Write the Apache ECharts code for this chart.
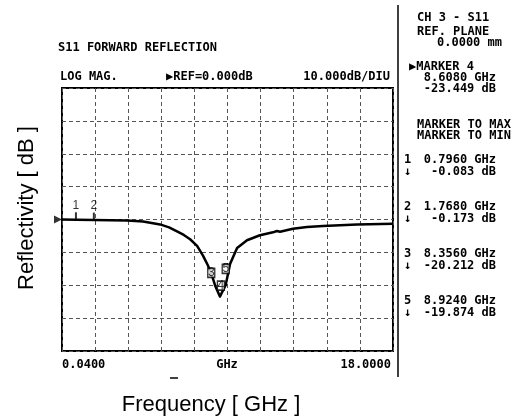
<!DOCTYPE html>
<html>
<head>
<meta charset="utf-8">
<script src="https://cdn.jsdelivr.net/npm/echarts@6/dist/echarts.min.js"></script>
<style>
  html, body { margin: 0; padding: 0; background: #fff; }
  #chart { width: 512px; height: 419px; }
</style>
</head>
<body>
<div id="chart"></div>
<script>
// S11 trace (GHz, dB)
const freqGHz = [0.04, 0.796, 1.768, 2.64, 3.57, 4.44, 5.36, 5.85, 6.28, 6.65, 6.99, 7.37, 7.69, 7.96, 8.23,
  8.356, 8.608, 8.924, 9.16, 9.54, 10.08, 10.78, 11.49, 11.7, 11.87, 12.57, 13.33, 14.2, 16.05, 18.0];
const reflDb = [0.0, -0.083, -0.173, -0.2, -0.3, -0.6, -1.5, -2.4, -3.6, -4.7, -6.0, -8.0, -11.0, -14.0, -18.0,
  -20.212, -23.449, -19.874, -13.5, -8.7, -6.3, -4.8, -3.9, -3.5, -3.7, -2.8, -2.3, -2.0, -1.5, -1.3];

// analyzer markers
const markerNames = ['1', '2', '3', '4', '5'];
const markerFreq = [0.796, 1.768, 8.356, 8.608, 8.924];
const markerDb = [-0.083, -0.173, -20.212, -23.449, -19.874];

const fStart = 0.04, fStop = 18.0;
const dbMin = -40, dbMax = 40, dbPerDiv = 10;

const mono = '"DejaVu Sans Mono", monospace';
const txt = (x, y, text, align) => ({
  type: 'text', x: x, y: y,
  style: { text: text, font: 'bold 12px ' + mono, fill: '#000', textAlign: align || 'left', textVerticalAlign: 'middle' }
});

const chart = echarts.init(document.getElementById('chart'));

const traceData = freqGHz.map((f, i) => [f, reflDb[i]]);
const flagData = [0, 1].map(i => ({ value: [markerFreq[i], markerDb[i]], name: markerNames[i] }));
const boxOffsets = { '3': [-4, -13], '4': [1, -11], '5': [0, -16] };
const boxData = [2, 3, 4].map(i => ({
  value: [markerFreq[i], markerDb[i]], name: markerNames[i],
  symbolOffset: boxOffsets[markerNames[i]]
}));

const readouts = [];
[0, 1, 2, 4].forEach((i, k) => {
  const y = 160 + k * 47;
  readouts.push(txt(404, y, markerNames[i]));
  readouts.push(txt(404, y + 12, '\u2193'));
  readouts.push(txt(496, y, markerFreq[i].toFixed(4) + ' GHz', 'right'));
  readouts.push(txt(496, y + 12, markerDb[i].toFixed(3) + ' dB', 'right'));
});

chart.setOption({
  animation: false,
  backgroundColor: '#fff',
  grid: { left: 62, top: 88, right: 119, bottom: 68, show: true, borderColor: '#000', borderWidth: 2, backgroundColor: 'transparent' },
  xAxis: [
    { type: 'value', min: fStart, max: fStop, show: false },
    { type: 'value', min: 0, max: 10, interval: 1, position: 'bottom',
      axisLine: { show: false }, axisTick: { show: false }, axisLabel: { show: false },
      splitLine: { show: true, lineStyle: { color: '#555', width: 1, type: [4, 3] } } }
  ],
  yAxis: {
    type: 'value', min: dbMin, max: dbMax, interval: dbPerDiv,
    axisLine: { show: false }, axisTick: { show: false }, axisLabel: { show: false },
    splitLine: { show: true, lineStyle: { color: '#555', width: 1, type: [4, 3] } }
  },
  series: [
    {
      type: 'line', xAxisIndex: 0, data: traceData, showSymbol: false, smooth: false,
      lineStyle: { color: '#000', width: 2.5, join: 'round' }, z: 3
    },
    {
      // reference-level pointer at 0 dB on the left edge
      type: 'scatter', xAxisIndex: 0, data: [[fStart, 0]], symbol: 'triangle', symbolRotate: -90,
      symbolSize: [8, 8], symbolOffset: [-4, 0], itemStyle: { color: '#000' }, clip: false, z: 4
    },
    {
      type: 'scatter', xAxisIndex: 0, data: flagData, symbol: 'rect', symbolSize: [2, 7],
      symbolOffset: [0, -4], itemStyle: { color: '#000' }, z: 4,
      label: { show: true, position: 'top', distance: 1, formatter: p => p.name,
        font: 'bold 11px ' + mono, color: '#000' }
    },
    {
      type: 'scatter', xAxisIndex: 0, data: boxData, symbol: 'rect', symbolSize: [7, 9],
      itemStyle: { color: '#fff', borderColor: '#000', borderWidth: 1.5 }, z: 5,
      label: { show: true, position: 'inside', formatter: p => p.name,
        font: 'bold 8px ' + mono, color: '#000' }
    }
  ],
  graphic: [
    { type: 'line', shape: { x1: 398, y1: 5, x2: 398, y2: 377 }, style: { stroke: '#000', lineWidth: 1.5 } },
    txt(58, 48, 'S11 FORWARD REFLECTION'),
    txt(60, 77, 'LOG MAG.'),
    txt(166, 77, '\u25B6REF=0.000dB'),
    txt(390, 77, '10.000dB/DIU', 'right'),
    txt(417, 18, 'CH 3 - S11'),
    txt(417, 32, 'REF. PLANE'),
    txt(502, 43, '0.0000 mm', 'right'),
    txt(409, 67, '\u25B6MARKER 4'),
    txt(496, 78, markerFreq[3].toFixed(4) + ' GHz', 'right'),
    txt(496, 89, markerDb[3].toFixed(3) + ' dB', 'right'),
    txt(417, 125, 'MARKER TO MAX'),
    txt(417, 136, 'MARKER TO MIN'),
    ...readouts,
    txt(62, 365, fStart.toFixed(4)),
    txt(227, 365, 'GHz', 'center'),
    txt(391, 365, fStop.toFixed(4), 'right'),
    { type: 'line', shape: { x1: 170, y1: 378, x2: 178, y2: 378 }, style: { stroke: '#000', lineWidth: 1.5 } },
    {
      type: 'text', x: 211, y: 405,
      style: { text: 'Frequency [ GHz ]', font: '22px "Liberation Sans", Arial, sans-serif', fill: '#000', textAlign: 'center', textVerticalAlign: 'middle' }
    },
    {
      type: 'text', x: 27, y: 208, rotation: Math.PI / 2,
      style: { text: 'Reflectivity [ dB ]', font: '22px "Liberation Sans", Arial, sans-serif', fill: '#000', textAlign: 'center', textVerticalAlign: 'middle' }
    }
  ]
});
</script>
</body>
</html>
